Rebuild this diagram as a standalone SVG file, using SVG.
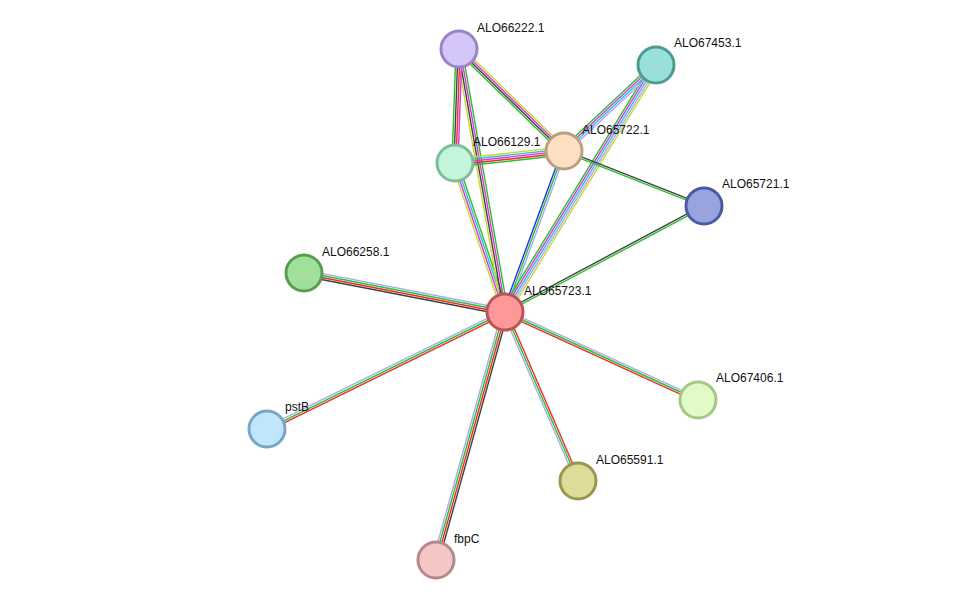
<svg xmlns="http://www.w3.org/2000/svg" width="975" height="606" viewBox="0 0 975 606">
<style>
line{stroke-width:1.4;fill:none}
.k{stroke:#404040}.r{stroke:#f0282a}.g{stroke:#2cc02c}.l{stroke:#a8a8f8}.c{stroke:#38b8e0}.m{stroke:#d838d8}.y{stroke:#c8d830}.b{stroke:#2030f0}
circle{stroke-width:3}
text{font-family:"Liberation Sans",Arial,sans-serif;font-size:12px;fill:#111}
</style>
<rect width="975" height="606" fill="#fff"/>
<g id="edges">
<g transform="translate(505,312) rotate(190.98)"><line x2="204.7" y1="-3" y2="-3" class="k"/><line x2="204.7" y1="-1" y2="-1" class="r"/><line x2="204.7" y1="1" y2="1" class="g"/><line x2="204.7" y1="3" y2="3" class="l"/></g>
<g transform="translate(505,312) rotate(153.82)"><line x2="265.2" y1="2" y2="2" class="l"/><line x2="265.2" class="g"/><line x2="265.2" y1="-2" y2="-2" class="r"/></g>
<g transform="translate(505,312) rotate(105.55)"><line x2="257.4" y1="3" y2="3" class="l"/><line x2="257.4" y1="1" y2="1" class="g"/><line x2="257.4" y1="-1" y2="-1" class="r"/><line x2="257.4" y1="-3" y2="-3" class="k"/></g>
<g transform="translate(505,312) rotate(66.64)"><line x2="184.1" y1="2" y2="2" class="l"/><line x2="184.1" class="g"/><line x2="184.1" y1="-2" y2="-2" class="r"/></g>
<g transform="translate(505,312) rotate(24.51)"><line x2="212.1" y1="-2" y2="-2" class="l"/><line x2="212.1" class="g"/><line x2="212.1" y1="2" y2="2" class="r"/></g>
<g transform="translate(505,312) rotate(-28.04)"><line x2="225.5" y1="-1" y2="-1" class="k"/><line x2="225.5" y1="1" y2="1" class="g"/></g>
<g transform="translate(505,312) rotate(-69.88)"><line x2="171.5" y1="-2" y2="-2" class="b"/><line x2="171.5" class="g"/><line x2="171.5" y1="2" y2="2" class="l"/></g>
<g transform="translate(505,312) rotate(-58.56)"><line x2="289.5" y1="-4" y2="-4" class="g"/><line x2="289.5" y1="-2" y2="-2" class="m"/><line x2="289.5" class="c"/><line x2="289.5" y1="2" y2="2" class="l"/><line x2="289.5" y1="4" y2="4" class="y"/></g>
<g transform="translate(505,312) rotate(-108.55)"><line x2="157.2" y1="-3" y2="-3" class="y"/><line x2="157.2" y1="-1" y2="-1" class="m"/><line x2="157.2" y1="1" y2="1" class="c"/><line x2="157.2" y1="3" y2="3" class="g"/></g>
<g transform="translate(505,312) rotate(-99.92)"><line x2="267" y1="-3" y2="-3" class="y"/><line x2="267" y1="-1" y2="-1" class="k"/><line x2="267" y1="1" y2="1" class="m"/><line x2="267" y1="3" y2="3" class="g"/></g>
<g transform="translate(459,49) rotate(92.01)"><line x2="114.1" y1="-3" y2="-3" class="m"/><line x2="114.1" y1="-1" y2="-1" class="r"/><line x2="114.1" y1="1" y2="1" class="k"/><line x2="114.1" y1="3" y2="3" class="g"/></g>
<g transform="translate(459,49) rotate(44.17)"><line x2="146.4" y1="-3" y2="-3" class="y"/><line x2="146.4" y1="-1" y2="-1" class="m"/><line x2="146.4" y1="1" y2="1" class="k"/><line x2="146.4" y1="3" y2="3" class="g"/></g>
<g transform="translate(455,163) rotate(-6.28)"><line x2="109.7" y1="-4" y2="-4" class="y"/><line x2="109.7" y1="-2" y2="-2" class="c"/><line x2="109.7" class="m"/><line x2="109.7" y1="2" y2="2" class="r"/><line x2="109.7" y1="4" y2="4" class="g"/></g>
<g transform="translate(656,65) rotate(136.93)"><line x2="125.9" y1="-3" y2="-3" class="l"/><line x2="125.9" y1="-1" y2="-1" class="c"/><line x2="125.9" y1="1" y2="1" class="m"/><line x2="125.9" y1="3" y2="3" class="g"/></g>
<g transform="translate(564,151) rotate(21.45)"><line x2="150.4" y1="-1" y2="-1" class="k"/><line x2="150.4" y1="1" y2="1" class="g"/></g>
</g>
<g id="ALO65723.1"><circle cx="505" cy="312" r="18" fill="#f99" stroke="#b55"/><text x="524" y="295">ALO65723.1</text></g>
<g id="ALO66222.1"><circle cx="459" cy="49" r="18" fill="#d5c6fa" stroke="#9a83c6"/><text x="477" y="32">ALO66222.1</text></g>
<g id="ALO67453.1"><circle cx="656" cy="65" r="18" fill="#98e0d8" stroke="#4f9a92"/><text x="674" y="47">ALO67453.1</text></g>
<g id="ALO66129.1"><circle cx="455" cy="163" r="18" fill="#c2f5da" stroke="#7fbd9a"/><text x="473" y="146">ALO66129.1</text></g>
<g id="ALO65722.1"><circle cx="564" cy="151" r="18" fill="#fde0c4" stroke="#b9a07f"/><text x="582" y="134">ALO65722.1</text></g>
<g id="ALO65721.1"><circle cx="704" cy="206" r="18" fill="#99a3e0" stroke="#4b5aa0"/><text x="722" y="188">ALO65721.1</text></g>
<g id="ALO66258.1"><circle cx="304" cy="273" r="18" fill="#9fe09a" stroke="#5a9a55"/><text x="322" y="256">ALO66258.1</text></g>
<g id="pstB"><circle cx="267" cy="429" r="18" fill="#bfe6fb" stroke="#79a6c4"/><text x="285" y="411">pstB</text></g>
<g id="fbpC"><circle cx="436" cy="560" r="18" fill="#f5c6c6" stroke="#b88888"/><text x="454" y="543">fbpC</text></g>
<g id="ALO65591.1"><circle cx="578" cy="481" r="18" fill="#dfdb98" stroke="#999650"/><text x="596" y="464">ALO65591.1</text></g>
<g id="ALO67406.1"><circle cx="698" cy="400" r="18" fill="#e2fac5" stroke="#a5c888"/><text x="716" y="382">ALO67406.1</text></g>
</svg>
